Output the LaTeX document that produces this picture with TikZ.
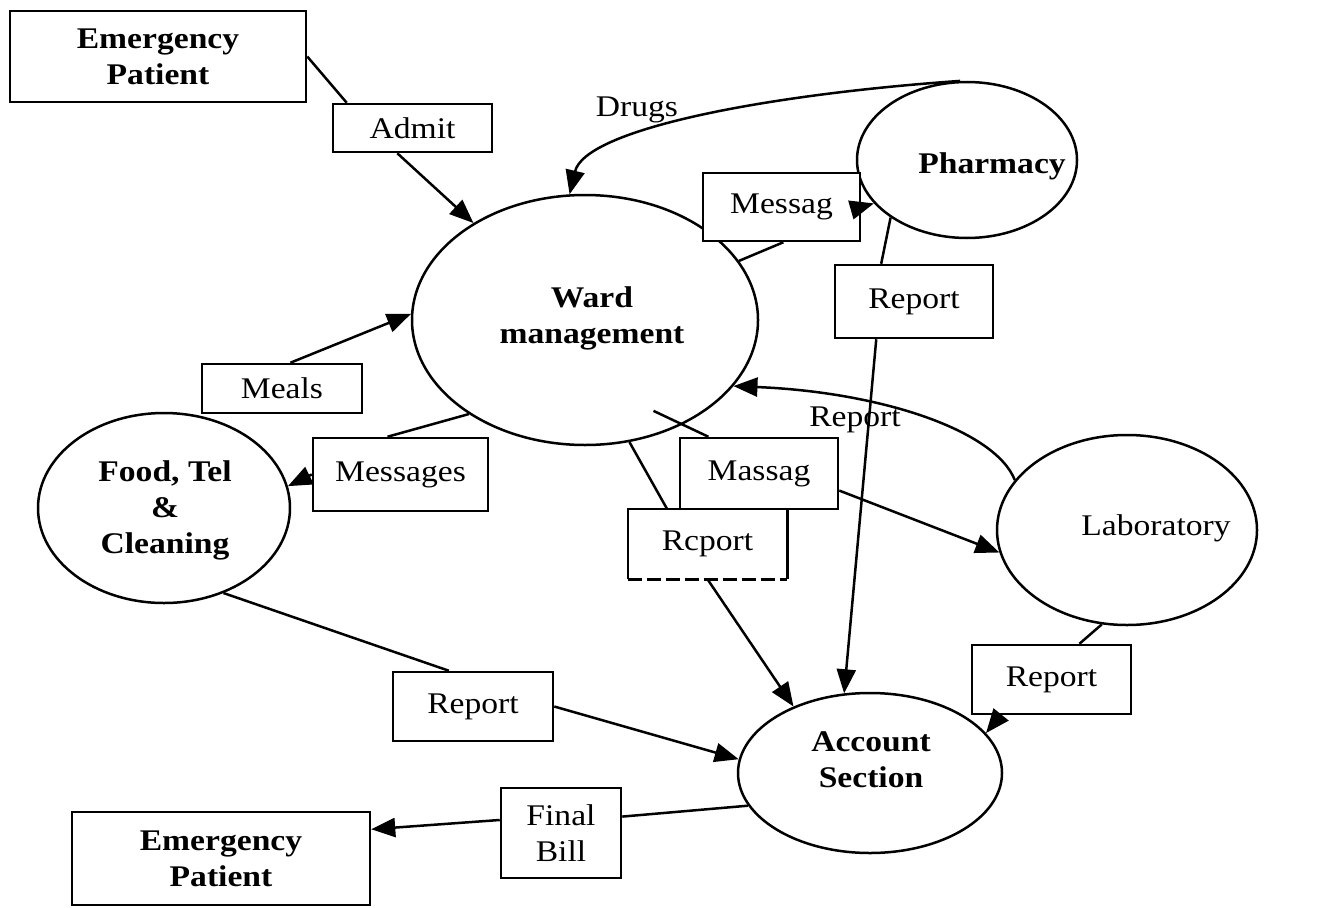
\documentclass[tikz,border=0pt]{standalone}
\usepackage{fontspec}
\setmainfont{Liberation Serif}[FakeStretch=1.12]
\usetikzlibrary{arrows.meta,calc,shapes.geometric}

\begin{document}
\begin{tikzpicture}[x=1pt,y=-1pt,
  flow/.style={line width=2.5pt},
  arr/.style={flow,-{Triangle[length=24pt,width=19pt]}},
  proc/.style={ellipse,draw,line width=2.5pt,inner sep=0pt},
  box/.style={rectangle,draw,line width=2.5pt,fill=white,inner sep=0pt,align=center,
              font=\fontsize{30}{36}\selectfont},
  ent/.style={box,font=\fontsize{30}{36}\selectfont\bfseries},
  ptext/.style={align=center,inner sep=0pt,font=\fontsize{30}{36}\selectfont\bfseries},
  lbl/.style={inner sep=0pt,font=\fontsize{30}{36}\selectfont}
]
\fill[white] (0,0) rectangle (1319,907);
\useasboundingbox (0,0) rectangle (1319,907);

% processes
\node[proc,minimum width=346pt,minimum height=250pt] (ward)  at (585,320) {};
\node[proc,minimum width=220pt,minimum height=156pt] (pharm) at (967,160) {};
\node[proc,minimum width=252pt,minimum height=190pt] (food)  at (164,508) {};
\node[proc,minimum width=260pt,minimum height=190pt] (lab)   at (1127,530) {};
\node[proc,minimum width=264pt,minimum height=160pt] (acct)  at (870,773) {};

\node[ptext] (wardtext)  at (592,318) {Ward\\management};
\node[ptext] (pharmtext) at (992,166) {Pharmacy};
\node[ptext] (foodtext)  at (165,510) {Food, Tel\\\&\\Cleaning};
\node[lbl]   (labtext)   at (1156,528) {Laboratory};
\node[ptext] (accttext)  at (871,760) {Account\\Section};

% external entities and flow labels
\node[ent,minimum width=296pt,minimum height=91pt] (ep1) at (158,56.5) {Emergency\\Patient};
\node[box,minimum width=159pt,minimum height=48pt] (admit) at (412.5,128) {Admit};
\node[box,minimum width=157pt,minimum height=68pt] (messag) at (781.5,207) {Messag};
\node[box,minimum width=158pt,minimum height=73pt] (rep1) at (914,301.5) {Report};
\node[box,minimum width=160pt,minimum height=49pt] (meals) at (282,388.5) {Meals};
\node[box,minimum width=175pt,minimum height=73pt] (msgs) at (400.5,474.5) {Messages};
\node[box,minimum width=158pt,minimum height=71pt] (massag) at (759,473.5) {Massag};
\node[box,draw=none,minimum width=157pt,minimum height=68pt] (rep2) at (707.5,544) {Rcport};
\node[box,minimum width=160pt,minimum height=69pt] (rep3) at (473,706.5) {Report};
\node[box,minimum width=159pt,minimum height=69pt] (rep4) at (1051.5,679.5) {Report};
\node[box,minimum width=120pt,minimum height=90pt] (bill) at (561,833) {Final\\Bill};
\node[ent,minimum width=298pt,minimum height=93pt] (ep2) at (221,858.5) {Emergency\\Patient};

% box with a dashed lower edge
\draw[flow] (rep2.south west) |- (rep2.north east) -- (rep2.south east);
\draw[flow,dash pattern=on 14pt off 5pt] (rep2.south west) -- (rep2.south east);

% flows
\draw[flow] (ep1.east) -- (admit.159);
\draw[arr] (admit.239) -- (ward.139);

\draw[arr] (pharm.95) .. controls (760,95) and (585,130) .. (ward.97);
\node[lbl] (drugs) at (637,110) {Drugs};

\draw[flow] (ward.21) -- (messag.273);
\draw[arr] (messag.east) -- (pharm.205);

\draw[flow] (pharm.217) -- (rep1.131);
\draw[arr] (rep1.225) -- (acct.108);

\draw[arr] (meals.72) -- (ward.178);

\draw[flow] (ward.219) -- (msgs.109);
\draw[arr] (msgs.west) -- (food.10);

\draw[flow] ($(ward.center)!0.82!(ward.-53)$) -- (massag.144);
\draw[arr] (massag.-12) -- (lab.190);

\draw[flow] (ward.-70) -- (rep2.139);
\draw[arr] (rep2.south) -- (acct.139);

\draw[arr] (lab.156) .. controls (995,430) and (880,392) .. (ward.-24);
\node[lbl] (labrep) at (855,420) {Report};

\draw[flow] (lab.255) -- (rep4.52);
\draw[arr] (rep4.215) -- (acct.19);

\draw[flow] (food.-55) -- (rep3.124);
\draw[arr] (rep3.east) -- (acct.174);

\draw[flow] (acct.195) -- (bill.15);
\draw[arr] (bill.168) -- (ep2.11);
\end{tikzpicture}
\end{document}
